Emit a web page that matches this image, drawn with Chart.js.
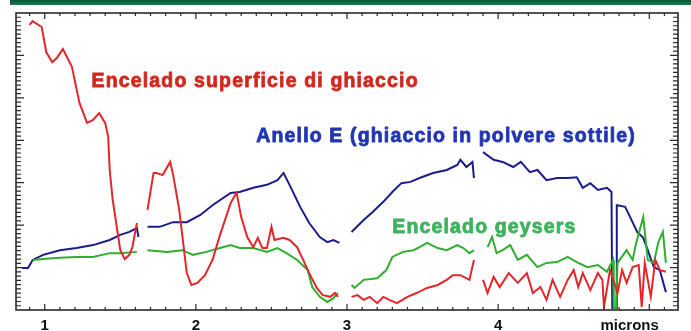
<!DOCTYPE html>
<html>
<head>
<meta charset="utf-8">
<script src="https://cdn.jsdelivr.net/npm/chart.js@4/dist/chart.umd.min.js"></script>
<style>
	body { margin: 0; background: #fff; }
	canvas { display: block; }
</style>
</head>
<body>
<canvas id="myChart" width="691" height="331"></canvas>
<script>
// DATA (x in microns, y in plot units, null = gap in the spectrum)
let redX = [0.90, 0.92, 0.98, 1.01, 1.05, 1.08, 1.12, 1.18, 1.23, 1.28, 1.32, 1.36, 1.40, 1.42, 1.43, 1.45, 1.50, 1.53, 1.56, 1.58, 1.61, 1.645,
	1.68, 1.72, 1.74, 1.78, 1.83, 1.85, 1.89, 1.94, 1.97, 2.01, 2.06, 2.11, 2.16, 2.23, 2.26, 2.27, 2.30, 2.34, 2.38, 2.41, 2.44, 2.47, 2.50, 2.52, 2.58, 2.62, 2.67, 2.71, 2.75, 2.80, 2.84, 2.89, 2.92, 2.94, 2.98,
	3.03, 3.07, 3.11, 3.15, 3.20, 3.24, 3.28, 3.33, 3.40, 3.46, 3.53, 3.60, 3.66, 3.70, 3.75, 3.81, 3.84, 3.87,
	3.90, 3.93, 3.97, 4.01, 4.07, 4.13, 4.19, 4.23, 4.28, 4.32, 4.36, 4.41, 4.46, 4.50, 4.53, 4.56, 4.61, 4.66, 4.69, 4.70, 4.74, 4.79, 4.82, 4.85, 4.89, 4.93, 4.95, 4.97, 5.01, 5.04, 5.07, 5.11];
let redY = [6.72, 6.81, 6.67, 6.08, 5.84, 5.94, 6.15, 5.73, 4.88, 4.41, 4.48, 4.64, 4.41, 4.08, 3.30, 2.59, 1.41, 1.20, 1.30, 1.48, 2.05, null,
	2.36, 3.23, 3.23, 3.18, 3.49, 3.18, 2.36, 0.87, 0.59, 0.64, 0.82, 1.18, 1.77, 2.52, 2.71, 2.76, 2.19, 1.72, 1.48, 1.70, 1.46, 1.46, 1.96, 1.65, 1.70, 1.65, 1.48, 1.18, 0.87, 0.52, 0.35, 0.31, 0.40, 0.31, null,
	0.31, 0.35, 0.24, 0.31, 0.16, 0.31, 0.24, 0.16, 0.31, 0.40, 0.52, 0.59, 0.71, 0.82, 0.82, 0.71, 1.18, null,
	0.71, 0.40, 0.78, 0.54, 0.87, 0.64, 0.87, 0.40, 0.54, 0.24, 0.71, 0.31, 0.71, 0.94, 0.54, 0.87, 0.47, 0.87, 0.71, 0.07, 0.94, 0.40, 0.94, 0.64, 1.01, 1.06, 0.07, 1.11, 0.31, 1.18, 0.94, 0.90];

let blueX = [0.85, 0.89, 0.92, 0.99, 1.10, 1.21, 1.32, 1.43, 1.50, 1.56, 1.61, 1.62, 1.65,
	1.68, 1.76, 1.85, 1.94, 2.03, 2.11, 2.23, 2.29, 2.38, 2.47, 2.54, 2.58, 2.62, 2.69, 2.75, 2.82, 2.87, 2.91, 2.95, 2.99,
	3.03, 3.11, 3.17, 3.24, 3.30, 3.36, 3.42, 3.48, 3.57, 3.66, 3.73, 3.75, 3.79, 3.83, 3.84, 3.87,
	3.90, 3.97, 4.03, 4.10, 4.15, 4.21, 4.26, 4.32, 4.39, 4.46, 4.52, 4.56, 4.61, 4.66, 4.72, 4.75, 4.755, 4.78, 4.785, 4.79, 4.84, 4.86, 4.92, 4.96, 4.99, 5.03, 5.07, 5.11];
let blueY = [0.99, 0.99, 1.18, 1.30, 1.41, 1.46, 1.53, 1.65, 1.77, 1.84, 1.93, 1.72, null,
	1.96, 1.96, 2.07, 2.07, 2.24, 2.47, 2.76, 2.78, 2.88, 2.95, 3.06, 3.23, 2.95, 2.43, 2.05, 1.72, 1.60, 1.65, 1.58, null,
	1.84, 2.12, 2.31, 2.55, 2.78, 2.99, 3.02, 3.11, 3.23, 3.30, 3.42, 3.54, 3.37, 3.49, 3.11, null,
	3.72, 3.54, 3.49, 3.37, 3.49, 3.25, 3.30, 3.06, 3.11, 3.11, 3.13, 2.88, 2.99, 2.83, 2.88, 2.78, 0.05, 0.05, 2.47, 2.47, 2.43, 2.29, 1.84, 1.70, 1.41, 1.01, 0.94, 0.42];

let greenX = [0.92, 0.99, 1.10, 1.21, 1.32, 1.43, 1.50, 1.61, 1.645,
	1.68, 1.81, 1.91, 1.98, 2.07, 2.16, 2.23, 2.29, 2.38, 2.47, 2.54, 2.60, 2.67, 2.74, 2.77, 2.82, 2.87, 2.91, 2.94, 2.98,
	3.03, 3.05, 3.11, 3.20, 3.26, 3.30, 3.37, 3.44, 3.48, 3.53, 3.60, 3.66, 3.73, 3.77, 3.81, 3.84, 3.87,
	3.93, 3.96, 3.99, 4.03, 4.08, 4.13, 4.19, 4.26, 4.32, 4.39, 4.46, 4.52, 4.59, 4.66, 4.72, 4.76, 4.765, 4.78, 4.79, 4.85, 4.89, 4.91, 4.96, 4.99, 5.03, 5.06, 5.09, 5.11];
let greenY = [1.18, 1.20, 1.23, 1.25, 1.25, 1.34, 1.34, 1.37, null,
	1.41, 1.37, 1.41, 1.30, 1.37, 1.46, 1.53, 1.46, 1.46, 1.37, 1.46, 1.34, 1.18, 0.94, 0.54, 0.31, 0.19, 0.28, 0.40, null,
	0.59, 0.52, 0.71, 0.75, 0.94, 1.25, 1.37, 1.41, 1.48, 1.58, 1.46, 1.41, 1.53, 1.46, 1.34, 1.41, null,
	1.48, 1.72, 1.34, 1.41, 1.53, 1.18, 1.30, 1.01, 1.11, 1.13, 1.25, 1.13, 1.01, 1.06, 0.90, 1.18, 0.05, 0.05, 1.11, 1.41, 1.18, 1.53, 2.19, 1.18, 1.11, 1.60, 1.84, 1.11];

// X AXIS TICK LABELS
let tickValues = [1, 2, 3, 4, 4.87];
let tickLabels = ["1", "2", "3", "4", "microns"];

// TEXT LABELS INSIDE THE PLOT
let seriesNames = ["Encelado superficie di ghiaccio", "Anello E (ghiaccio in polvere sottile)", "Encelado geysers"];
let namePlaces = [
	{ x: 1.31, y: 5.26, color: "#d1291f" },
	{ x: 2.40, y: 3.96, color: "#2236b3" },
	{ x: 3.30, y: 1.81, color: "#3db35c" },
];

function toPoints(xs, ys) {
	return xs.map((v, i) => ({ x: v, y: ys[i] }));
}

// BACKGROUND + GREEN BAR
const pageDecor = {
	id: "pageDecor",
	beforeDraw(chart) {
		let ctx = chart.ctx;
		ctx.save();
		ctx.fillStyle = "#fff";
		ctx.fillRect(0, 0, chart.width, chart.height);
		let g = ctx.createLinearGradient(0, 0, 0, 5);
		g.addColorStop(0, "#0b5235");
		g.addColorStop(1, "#1f7a50");
		ctx.fillStyle = g;
		ctx.fillRect(10, 0, chart.width - 10, 5);
		ctx.restore();
	},
};

// FRAME AND INWARD TICKS
const frameTicks = {
	id: "frameTicks",
	afterDatasetsDraw(chart) {
		let ctx = chart.ctx;
		let a = chart.chartArea;
		let x = chart.scales.x;
		let y = chart.scales.y;
		ctx.save();
		ctx.strokeStyle = "#2a2a2a";
		ctx.lineWidth = 1.2;
		ctx.beginPath();
		for (let i = 9; i <= 51; i++) {
			let px = x.getPixelForValue(i / 10);
			let len = i % 10 === 0 ? 6 : 3;
			ctx.moveTo(px, a.bottom);
			ctx.lineTo(px, a.bottom - len);
			ctx.moveTo(px, a.top);
			ctx.lineTo(px, a.top + len);
		}
		for (let i = 1; i < 70; i++) {
			let py = y.getPixelForValue(i / 10);
			let len = i % 10 === 0 ? 8 : 5;
			ctx.moveTo(a.left, py);
			ctx.lineTo(a.left + len, py);
			ctx.moveTo(a.right, py);
			ctx.lineTo(a.right - len, py);
		}
		ctx.stroke();
		ctx.lineWidth = 1.6;
		ctx.strokeRect(a.left, a.top, a.right - a.left, a.bottom - a.top);

		// series names
		ctx.font = "bold 19.5px 'Liberation Sans', Arial, sans-serif";
		ctx.letterSpacing = "1.15px";
		ctx.textBaseline = "alphabetic";
		ctx.lineWidth = 0.8;
		ctx.lineJoin = "round";
		for (let i = 0; i < seriesNames.length; i++) {
			let px = x.getPixelForValue(namePlaces[i].x);
			let py = y.getPixelForValue(namePlaces[i].y);
			ctx.fillStyle = namePlaces[i].color;
			ctx.strokeStyle = namePlaces[i].color;
			ctx.fillText(seriesNames[i], px, py);
			ctx.strokeText(seriesNames[i], px, py);
		}
		ctx.restore();
	},
};

let ctx = document.getElementById("myChart").getContext("2d");
let myChart = new Chart(ctx, {
	type: "line",
	data: {
		datasets: [
			{ label: seriesNames[0], data: toPoints(redX, redY), borderColor: "#e3262a" },
			{ label: seriesNames[2], data: toPoints(greenX, greenY), borderColor: "#2fae2f" },
			{ label: seriesNames[1], data: toPoints(blueX, blueY), borderColor: "#1b1c8c" },
		],
	},
	options: {
		responsive: false,
		animation: false,
		spanGaps: false,
		layout: { padding: { top: 13, right: 13, left: 0, bottom: 0 } },
		elements: {
			point: { radius: 0 },
			line: { borderWidth: 2, tension: 0 },
		},
		plugins: {
			legend: { display: false },
			tooltip: { enabled: false },
		},
		scales: {
			x: {
				type: "linear",
				min: 0.81,
				max: 5.19,
				grid: { display: false },
				border: { display: false },
				afterBuildTicks: (axis) => {
					axis.ticks = tickValues.map((v) => ({ value: v }));
				},
				afterFit: (axis) => {
					axis.height = 21;
				},
				ticks: {
					autoSkip: false,
					maxRotation: 0,
					padding: -1,
					color: "#111",
					font: { family: "'Liberation Sans', Arial, sans-serif", size: 15, weight: "bold" },
					callback: (v) => tickLabels[tickValues.indexOf(v)],
				},
			},
			y: {
				min: 0,
				max: 7,
				grid: { display: false },
				border: { display: false },
				ticks: { display: false },
				afterFit: (axis) => {
					axis.width = 16;
				},
			},
		},
	},
	plugins: [pageDecor, frameTicks],
});
</script>
</body>
</html>
